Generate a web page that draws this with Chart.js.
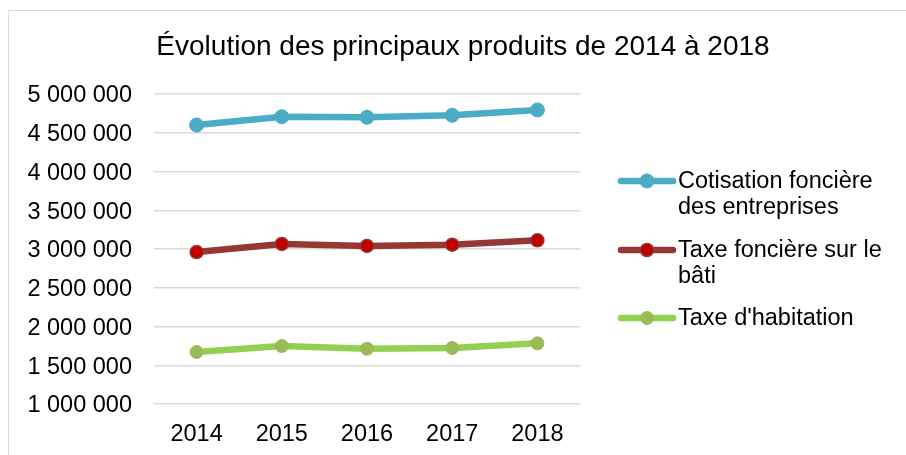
<!DOCTYPE html>
<html>
<head>
<meta charset="utf-8">
<script src="https://cdn.jsdelivr.net/npm/chart.js@4/dist/chart.umd.min.js"></script>
<style>
  html, body { margin: 0; padding: 0; background: #fff; overflow: hidden; }
  #frame { position: absolute; left: 8px; top: 10px; width: 1000px; height: 1000px; border: 1px solid #d9d9d9; }
  #c { position: absolute; left: 0; top: 0; }
</style>
</head>
<body>
<div id="frame"></div>
<canvas id="c" width="906" height="455"></canvas>
<script>
const chartTitle = "Évolution des principaux produits de 2014 à 2018";
const categories = ["2014", "2015", "2016", "2017", "2018"];
const cfeValues = [4600000, 4707000, 4700000, 4725000, 4794000];
const tfbValues = [2961000, 3065000, 3039000, 3056000, 3112000];
const thValues  = [1671000, 1748000, 1714000, 1723000, 1783000];
const seriesNames = [
  ["Cotisation foncière", "des entreprises"],
  ["Taxe foncière sur le", "bâti"],
  ["Taxe d'habitation"]
];
const yMin = 1000000, yMax = 5000000, yStep = 500000;

const FONT = '"Liberation Sans", Arial, sans-serif';

function fmt(v) {
  return String(Math.round(v)).replace(/\B(?=(\d{3})+(?!\d))/g, " ");
}

const titlePlugin = {
  id: 'customTitle',
  afterDraw(chart) {
    const ctx = chart.ctx;
    ctx.save();
    ctx.fillStyle = '#000';
    ctx.font = '28px ' + FONT;
    ctx.textAlign = 'center';
    ctx.textBaseline = 'middle';
    ctx.fillText(chartTitle, 463, 47);
    ctx.restore();
  }
};

const legendPlugin = {
  id: 'customLegend',
  afterDraw(chart) {
    const ctx = chart.ctx;
    const ys = [181, 250, 318];
    ctx.save();
    chart.data.datasets.forEach((ds, i) => {
      const y = ys[i];
      ctx.strokeStyle = ds.borderColor;
      ctx.lineWidth = ds.borderWidth;
      ctx.lineCap = 'round';
      ctx.beginPath();
      ctx.moveTo(621, y);
      ctx.lineTo(673, y);
      ctx.stroke();
      ctx.beginPath();
      ctx.arc(647, y, ds.pointRadius, 0, Math.PI * 2);
      ctx.fillStyle = ds.pointBackgroundColor;
      ctx.fill();
      ctx.lineWidth = ds.pointBorderWidth;
      ctx.strokeStyle = ds.pointBorderColor;
      ctx.stroke();
      ctx.fillStyle = '#000';
      ctx.font = '23.5px ' + FONT;
      ctx.textAlign = 'left';
      ctx.textBaseline = 'middle';
      const lines = Array.isArray(ds.label) ? ds.label : [ds.label];
      lines.forEach((t, j) => ctx.fillText(t, 678, y + 1 + j * 26));
    });
    ctx.restore();
  }
};

new Chart(document.getElementById('c'), {
  type: 'line',
  data: {
    labels: categories,
    datasets: [
      {
        label: seriesNames[0], data: cfeValues,
        borderColor: '#4BACC6', borderWidth: 6.5,
        pointBackgroundColor: '#4BACC6', pointBorderColor: '#4BACC6',
        pointBorderWidth: 1, pointRadius: 7
      },
      {
        label: seriesNames[1], data: tfbValues,
        borderColor: '#953735', borderWidth: 6.5,
        pointBackgroundColor: '#C00000', pointBorderColor: '#953735',
        pointBorderWidth: 1.5, pointRadius: 6.5
      },
      {
        label: seriesNames[2], data: thValues,
        borderColor: '#92D050', borderWidth: 6.5,
        pointBackgroundColor: '#9BBB59', pointBorderColor: '#9BBB59',
        pointBorderWidth: 1, pointRadius: 6.5
      }
    ]
  },
  options: {
    responsive: false,
    animation: false,
    devicePixelRatio: 1,
    layout: { padding: { top: 94, right: 326, left: 0, bottom: 0 } },
    plugins: {
      legend: { display: false },
      title: { display: false },
      tooltip: { enabled: false }
    },
    elements: { line: { tension: 0, borderCapStyle: 'round', borderJoinStyle: 'round' } },
    scales: {
      x: {
        offset: true,
        grid: { display: false, drawTicks: false },
        border: { display: false },
        ticks: { color: '#000', font: { family: FONT, size: 23.5 }, padding: 16 },
        afterFit(s) { s.height = 51; }
      },
      y: {
        min: yMin, max: yMax,
        ticks: {
          stepSize: yStep, color: '#000',
          font: { family: FONT, size: 23.5 }, padding: 22, labelOffset: 2,
          callback: (v) => fmt(v)
        },
        grid: { color: '#d9d9d9', lineWidth: 1.5, drawTicks: false },
        border: { display: false },
        afterFit(s) { s.width = 154; }
      }
    }
  },
  plugins: [titlePlugin, legendPlugin]
});
</script>
</body>
</html>
